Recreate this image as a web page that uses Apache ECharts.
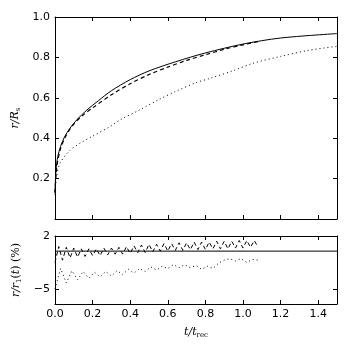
<!DOCTYPE html>
<html>
<head>
<meta charset="utf-8">
<script src="https://cdn.jsdelivr.net/npm/echarts@6/dist/echarts.min.js"></script>
<style>
	html, body { margin: 0; padding: 0; background: #fff; }
	#main { width: 350px; height: 350px; }
</style>
</head>
<body>
<div id="main"></div>
<script>
// upper panel: r/R_s vs t/t_rec
var solidT = [0, 0.005, 0.015, 0.03, 0.05, 0.08, 0.12, 0.17, 0.23, 0.3, 0.4, 0.5, 0.64, 0.8, 1.0, 1.2, 1.5];
var solidR = [0.13, 0.24, 0.31, 0.36, 0.405, 0.45, 0.495, 0.54, 0.585, 0.635, 0.69, 0.733, 0.778, 0.822, 0.866, 0.896, 0.918];

var dashT = [0, 0.01, 0.03, 0.06, 0.1, 0.15, 0.2, 0.3, 0.4, 0.5, 0.6, 0.7, 0.8, 0.9, 1.0, 1.08];
var dashR = [0.13, 0.26, 0.35, 0.415, 0.47, 0.515, 0.55, 0.615, 0.67, 0.715, 0.752, 0.785, 0.813, 0.84, 0.862, 0.878];

var dotT = [0, 0.005, 0.027, 0.08, 0.133, 0.2, 0.292, 0.345, 0.45, 0.55, 0.638, 0.75, 0.824, 0.95, 1.05, 1.2, 1.35, 1.5];
var dotR = [0.12, 0.19, 0.276, 0.34, 0.375, 0.41, 0.457, 0.49, 0.54, 0.59, 0.63, 0.675, 0.696, 0.735, 0.77, 0.805, 0.835, 0.855];

// lower panel: residuals in %
var resDashT = [0, 0.02, 0.04, 0.06, 0.08, 0.10, 0.12, 0.14, 0.16, 0.18, 0.20, 0.22, 0.24, 0.26, 0.28, 0.30,
	0.32, 0.34, 0.36, 0.38, 0.40, 0.42, 0.44, 0.46, 0.48, 0.50, 0.52, 0.54, 0.56, 0.58, 0.60, 0.62,
	0.64, 0.66, 0.68, 0.70, 0.72, 0.74, 0.76, 0.78, 0.80, 0.82, 0.84, 0.86, 0.88, 0.90, 0.92, 0.94,
	0.96, 0.98, 1.00, 1.02, 1.04, 1.06, 1.08];
var resDashV = [-1.5, 0.6, -1.2, 0.5, -0.9, 0.4, -0.8, 0.3, -0.7, 0.3, -0.6, 0.3, -0.6, 0.4, -0.5, 0.4,
	-0.4, 0.5, -0.4, 0.6, -0.3, 0.7, -0.2, 0.8, -0.2, 0.9, -0.1, 0.9, 0.0, 1.0, 0.0, 1.0,
	0.1, 1.1, 0.1, 1.1, 0.2, 1.2, 0.2, 1.2, 0.2, 1.2, 0.3, 1.3, 0.3, 1.3, 0.3, 1.3,
	0.4, 1.4, 0.4, 1.4, 0.5, 1.4, 0.5];

var resDotT = [0, 0.03, 0.06, 0.09, 0.12, 0.15, 0.18, 0.21, 0.24, 0.27, 0.30, 0.33, 0.36, 0.39, 0.42, 0.45,
	0.48, 0.51, 0.54, 0.57, 0.60, 0.63, 0.66, 0.69, 0.72, 0.75, 0.78, 0.81, 0.84, 0.87, 0.90, 0.93,
	0.96, 0.99, 1.02, 1.05, 1.08];
var resDotV = [-5.0, -2.3, -4.2, -2.6, -3.8, -2.7, -3.6, -2.8, -3.4, -2.7, -3.3, -2.6, -3.1, -2.4, -2.9, -2.3,
	-2.7, -2.1, -2.5, -2.0, -2.3, -1.8, -2.2, -1.8, -2.2, -1.9, -2.4, -2.0, -2.3, -1.6, -1.2, -1.0,
	-1.3, -1.0, -1.5, -1.1, -1.2];

var zeroT = [0, 1.5];
var zeroV = [0, 0];

var xTicks = [0, 0.2, 0.4, 0.6, 0.8, 1.0, 1.2, 1.4];
var yTicksTop = [0.2, 0.4, 0.6, 0.8, 1.0];
var yTicksBottom = [-5, 2];

function pairs(xs, ys) {
	var out = [];
	for (var i = 0; i < xs.length; i++) out.push([xs[i], ys[i]]);
	return out;
}

var font = 'DejaVu Sans';
var black = '#000';

function frameAxis(extra) {
	var a = {
		type: 'value',
		axisLine: { show: true, onZero: false, lineStyle: { color: black, width: 1 } },
		axisTick: { show: true, inside: true, length: 4, lineStyle: { color: black } },
		axisLabel: { show: false },
		splitLine: { show: false }
	};
	for (var k in extra) a[k] = extra[k];
	return a;
}

function ticks(vals) {
	return { show: true, inside: true, length: 4, customValues: vals, lineStyle: { color: black } };
}

var labelStyle = { show: true, color: black, fontFamily: font, fontSize: 11, margin: 5 };

var myChart = echarts.init(document.getElementById('main'));
var option = {
	animation: false,
	backgroundColor: '#fff',
	textStyle: { fontFamily: font },
	grid: [
		{ left: 55, right: 13, top: 17, height: 202 },
		{ left: 55, right: 13, top: 236, height: 68 }
	],
	xAxis: [
		frameAxis({ gridIndex: 0, min: 0, max: 1.5, position: 'bottom', axisTick: ticks(xTicks) }),
		frameAxis({ gridIndex: 0, min: 0, max: 1.5, position: 'top', axisTick: ticks(xTicks) }),
		frameAxis({ gridIndex: 1, min: 0, max: 1.5, position: 'bottom', axisTick: ticks(xTicks),
			axisLabel: Object.assign({}, labelStyle, { customValues: xTicks, formatter: function (v) { return v.toFixed(1); } }),
			name: '{i|t/t}{s|rec}', nameLocation: 'middle', nameGap: 22,
			nameTextStyle: { rich: {
				i: { fontFamily: 'DejaVu Serif', fontStyle: 'italic', fontSize: 11, color: black },
				s: { fontFamily: 'DejaVu Serif', fontSize: 7, color: black, verticalAlign: 'bottom', padding: [6, 0, 0, 0] }
			} } }),
		frameAxis({ gridIndex: 1, min: 0, max: 1.5, position: 'top', axisTick: ticks(xTicks) })
	],
	yAxis: [
		frameAxis({ gridIndex: 0, min: 0, max: 1, position: 'left', axisTick: ticks(yTicksTop),
			axisLabel: Object.assign({}, labelStyle, { customValues: yTicksTop, formatter: function (v) { return v.toFixed(1); } }),
			name: '{i|r/R}{s|s}', nameLocation: 'middle', nameGap: 30,
			nameTextStyle: { rich: {
				i: { fontFamily: 'DejaVu Serif', fontStyle: 'italic', fontSize: 11, color: black },
				s: { fontFamily: 'DejaVu Serif', fontSize: 7, color: black, padding: [6, 0, 0, 0] }
			} } }),
		frameAxis({ gridIndex: 0, min: 0, max: 1, position: 'right', axisTick: ticks(yTicksTop) }),
		frameAxis({ gridIndex: 1, min: -7, max: 2, position: 'left', axisTick: ticks(yTicksBottom),
			axisLabel: Object.assign({}, labelStyle, { customValues: yTicksBottom, formatter: function (v) { return v < 0 ? '\u2212' + (-v) : '' + v; } }),
			name: '{i|r/r}{s|1}{n|(}{i|t}{n|) (%)}', nameLocation: 'middle', nameGap: 26,
			nameTextStyle: { rich: {
				i: { fontFamily: 'DejaVu Serif', fontStyle: 'italic', fontSize: 11, color: black },
				n: { fontFamily: 'DejaVu Serif', fontSize: 11, color: black },
				s: { fontFamily: 'DejaVu Serif', fontSize: 7, color: black, padding: [6, 0, 0, 0] }
			} } }),
		frameAxis({ gridIndex: 1, min: -7, max: 2, position: 'right', axisTick: ticks(yTicksBottom) })
	],
	series: [
		{
			type: 'line', xAxisIndex: 0, yAxisIndex: 0, data: pairs(solidT, solidR),
			smooth: 0.3, showSymbol: false, lineStyle: { color: black, width: 1 }
		},
		{
			type: 'line', xAxisIndex: 0, yAxisIndex: 0, data: pairs(dashT, dashR),
			smooth: 0.3, showSymbol: false, lineStyle: { color: black, width: 1.2, type: [4, 3] }
		},
		{
			type: 'line', xAxisIndex: 0, yAxisIndex: 0, data: pairs(dotT, dotR),
			smooth: 0.3, showSymbol: false, lineStyle: { color: black, width: 1, type: [1, 3] }
		},
		{
			type: 'line', xAxisIndex: 2, yAxisIndex: 2, data: pairs(zeroT, zeroV),
			showSymbol: false, lineStyle: { color: black, width: 1 }
		},
		{
			type: 'line', xAxisIndex: 2, yAxisIndex: 2, data: pairs(resDashT, resDashV),
			showSymbol: false, lineStyle: { color: black, width: 1, type: [4, 3] }
		},
		{
			type: 'line', xAxisIndex: 2, yAxisIndex: 2, data: pairs(resDotT, resDotV),
			showSymbol: false, lineStyle: { color: black, width: 1, type: [1, 3] }
		}
	]
};
myChart.setOption(option);
</script>
</body>
</html>
